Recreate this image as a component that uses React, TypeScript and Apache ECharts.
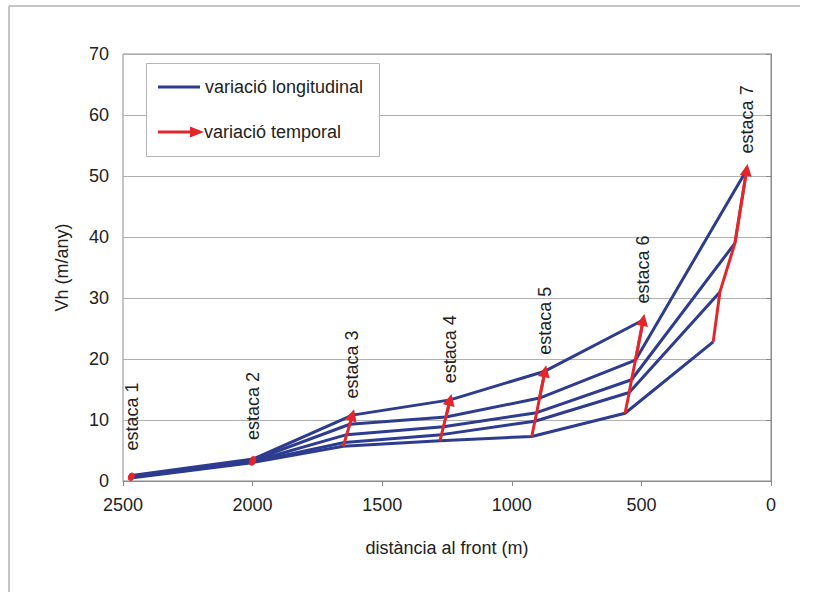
import React, { useEffect, useRef } from "react";
import * as echarts from "echarts";

// distance to the front (m) of each stake, for each survey (lowest line first)
const distances: number[][] = [
  [2470, 2003, 1650, 1277, 923, 563, 223],
  [2469, 2001, 1646, 1271, 911, 547, 197],
  [2468, 2000, 1637, 1264, 904, 538, 139],
  [2467, 1999, 1625, 1254, 893, 523, 94],
  [2466, 1997, 1615, 1238, 872, 493],
];
// horizontal velocity Vh (m/any) of each stake, for each survey
const velocities: number[][] = [
  [0.5, 3.0, 5.7, 6.6, 7.3, 11.1, 22.8],
  [0.6, 3.1, 6.3, 7.6, 9.8, 14.5, 31.0],
  [0.7, 3.2, 7.6, 8.9, 11.2, 16.6, 39.0],
  [0.8, 3.4, 9.3, 10.5, 13.6, 19.8, 51.0],
  [0.9, 3.6, 10.8, 13.3, 18.0, 26.4],
];
const stakeNames = ["estaca 1", "estaca 2", "estaca 3", "estaca 4", "estaca 5", "estaca 6", "estaca 7"];
const xTicks = [0, 500, 1000, 1500, 2000, 2500];
const yTicks = [0, 10, 20, 30, 40, 50, 60, 70];
const legendLabels = ["variació longitudinal", "variació temporal"];
const xTitle = "distància al front (m)";
const yTitle = "Vh (m/any)";

const BLUE = "#2D3C8E";
const RED = "#E2262B";
const FONT = "Liberation Sans, Arial, sans-serif";
const FS = 18;

export default function App() {
  const ref = useRef<HTMLDivElement>(null);
  useEffect(() => {
    if (!ref.current) return;
    const chart = echarts.init(ref.current, undefined, { renderer: "svg" });

    const blueSeries = distances.map((row, i) => ({
      type: "line",
      name: "survey " + (i + 1),
      data: row.map((d, j) => [d, velocities[i][j]]),
      symbol: "none",
      lineStyle: { color: BLUE, width: 3 },
      itemStyle: { color: BLUE },
      z: 2,
      silent: true,
    }));

    const redSeries = stakeNames.map((name, j) => {
      const pts: number[][] = [];
      distances.forEach((row, i) => {
        if (row[j] !== undefined) pts.push([row[j], velocities[i][j]]);
      });
      const last = pts[pts.length - 1];
      const prev = pts[pts.length - 2];
      const small = j < 2;
      return {
        type: "line",
        name,
        data: pts.map((p, k) =>
          k === pts.length - 1
            ? {
                value: p,
                label: {
                  show: true,
                  formatter: name,
                  position: "top",
                  rotate: 90,
                  align: "left",
                  verticalAlign: "middle",
                  distance: 16,
                  offset: j === 0 ? [6, 0] : [0, 0],
                  fontFamily: FONT,
                  fontSize: FS,
                  color: "#222",
                },
              }
            : { value: p }
        ),
        symbol: "circle",
        symbolSize: small ? 6 : 1,
        showSymbol: true,
        showAllSymbol: true,
        itemStyle: { color: RED },
        lineStyle: { color: RED, width: 3 },
        z: 3,
        silent: true,
        markLine: {
          silent: true,
          symbol: ["none", "triangle"],
          symbolSize: small ? 1 : 12,
          lineStyle: { color: RED, width: 3, type: "solid" },
          label: { show: false },
          data: [[{ coord: prev }, { coord: last }]],
          z: 3,
        },
      };
    });

    chart.setOption({
      animation: false,
      backgroundColor: "#fff",
      grid: {
        left: 123,
        right: 43,
        top: 54,
        bottom: 111,
        show: true,
        borderColor: "#8a8a8a",
        borderWidth: 1,
      },
      xAxis: {
        type: "value",
        inverse: true,
        min: xTicks[0],
        max: xTicks[xTicks.length - 1],
        interval: 500,
        name: xTitle,
        nameLocation: "middle",
        nameGap: 58,
        nameTextStyle: { fontFamily: FONT, fontSize: FS, color: "#222" },
        axisLine: { lineStyle: { color: "#8a8a8a", width: 1 } },
        axisTick: { show: true, length: 5, lineStyle: { color: "#8a8a8a" } },
        axisLabel: {
          fontFamily: FONT,
          fontSize: FS,
          color: "#222",
          margin: 15,
          formatter: (v: number) => String(v),
        },
        splitLine: { show: false },
      },
      yAxis: {
        type: "value",
        min: yTicks[0],
        max: yTicks[yTicks.length - 1],
        interval: 10,
        name: yTitle,
        nameLocation: "middle",
        nameGap: 52,
        nameTextStyle: { fontFamily: FONT, fontSize: FS, color: "#222" },
        axisLine: { show: true, lineStyle: { color: "#8a8a8a", width: 1 } },
        axisTick: { show: true, length: 5, lineStyle: { color: "#8a8a8a" } },
        axisLabel: {
          fontFamily: FONT,
          fontSize: FS,
          color: "#222",
          margin: 14,
          formatter: (v: number) => String(v),
        },
        splitLine: { show: true, lineStyle: { color: "#b0b0b0", width: 1 } },
      },
      graphic: [
        { type: "line", shape: { x1: 9, y1: 6, x2: 800, y2: 6 }, style: { stroke: "#c4c4c4", lineWidth: 2 } },
        { type: "line", shape: { x1: 9, y1: 6, x2: 9, y2: 592 }, style: { stroke: "#c4c4c4", lineWidth: 2 } },
        {
          type: "rect",
          shape: { x: 146.5, y: 63.5, width: 233, height: 93 },
          style: { fill: "#fff", stroke: "#b5b5b5", lineWidth: 1 },
          z: 10,
        },
        { type: "line", shape: { x1: 158, y1: 87, x2: 200, y2: 87 }, style: { stroke: BLUE, lineWidth: 3 }, z: 11 },
        {
          type: "text",
          x: 205,
          y: 87,
          style: { text: legendLabels[0], fontFamily: FONT, fontSize: FS, fill: "#222", verticalAlign: "middle" },
          z: 11,
        },
        { type: "line", shape: { x1: 158, y1: 132, x2: 192, y2: 132 }, style: { stroke: RED, lineWidth: 3 }, z: 11 },
        {
          type: "polygon",
          shape: { points: [[190, 126.5], [204, 132], [190, 137.5]] },
          style: { fill: RED },
          z: 11,
        },
        {
          type: "text",
          x: 204,
          y: 132,
          style: { text: legendLabels[1], fontFamily: FONT, fontSize: FS, fill: "#222", verticalAlign: "middle" },
          z: 11,
        },
      ],
      series: [...blueSeries, ...redSeries],
    });
    return () => chart.dispose();
  }, []);
  return (
    <div
      ref={ref}
      style={{ position: "fixed", left: 0, top: 0, width: 814, height: 592, background: "#fff" }}
    />
  );
}
